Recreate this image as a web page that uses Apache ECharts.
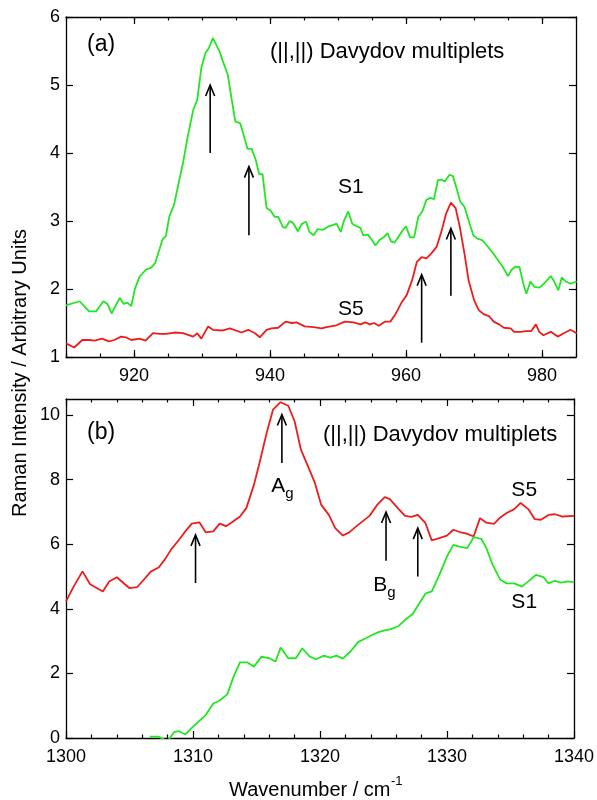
<!DOCTYPE html>
<html><head><meta charset="utf-8">
<script src="https://cdn.jsdelivr.net/npm/echarts@6/dist/echarts.min.js"></script>
<style>html,body{margin:0;padding:0;background:#fff}#c{width:597px;height:800px}</style>
</head><body><div id="c"></div>
<script>
// ---------- Panel (a) data: wavenumber, intensity ----------
const aS1 = [[910.0,1.76],[912.0,1.82],[913.4,1.67],[914.4,1.67],[915.5,1.82],[916.1,1.78],[916.7,1.64],[917.9,1.87],[918.5,1.78],[919.0,1.80],[919.6,1.75],[920.1,1.99],[920.8,2.18],[921.8,2.29],[922.5,2.31],[923.1,2.38],[923.8,2.60],[924.2,2.73],[924.7,2.78],[925.2,3.07],[925.9,3.24],[926.5,3.53],[927.2,3.85],[927.9,4.24],[928.7,4.63],[929.3,4.78],[929.9,5.25],[930.5,5.47],[931.0,5.54],[931.6,5.69],[932.1,5.59],[932.6,5.49],[933.1,5.34],[933.8,5.15],[934.3,4.83],[934.9,4.46],[935.6,4.44],[936.0,4.31],[936.7,4.06],[937.3,4.06],[937.9,3.90],[938.4,3.69],[938.9,3.69],[939.5,3.19],[940.1,3.15],[940.7,3.06],[941.2,3.06],[941.9,2.91],[942.3,2.90],[942.9,3.00],[943.4,2.97],[944.1,2.85],[944.7,2.96],[945.3,2.99],[945.8,2.84],[946.4,2.79],[947.0,2.88],[947.8,2.87],[948.6,2.92],[949.2,2.94],[949.8,2.96],[950.4,2.84],[950.9,3.01],[951.5,3.14],[952.1,2.96],[952.8,2.92],[953.3,2.90],[953.7,2.79],[954.4,2.80],[955.0,2.72],[955.5,2.64],[956.1,2.72],[956.7,2.76],[957.3,2.82],[957.8,2.70],[958.3,2.68],[958.9,2.77],[959.5,2.86],[960.0,2.92],[960.6,2.76],[961.2,2.76],[961.8,3.06],[962.4,3.14],[963.0,3.31],[963.6,3.34],[964.1,3.32],[964.7,3.60],[965.2,3.61],[965.7,3.58],[966.4,3.68],[966.9,3.66],[967.5,3.46],[968.0,3.28],[968.6,3.21],[969.2,3.01],[969.9,2.79],[970.5,2.74],[971.2,2.72],[971.9,2.64],[972.7,2.54],[973.4,2.44],[974.2,2.33],[975.0,2.19],[975.5,2.28],[976.1,2.33],[976.7,2.32],[977.3,2.06],[977.7,1.93],[978.3,2.11],[978.9,2.03],[979.6,2.02],[980.2,2.07],[981.3,2.19],[981.8,2.11],[982.4,1.98],[982.9,2.17],[983.5,2.11],[984.2,2.08],[985.1,2.11]];
const aS5 = [[910.0,1.20],[911.2,1.14],[912.4,1.25],[913.4,1.25],[914.2,1.24],[915.3,1.27],[916.3,1.23],[917.1,1.25],[918.1,1.30],[918.8,1.29],[919.6,1.25],[920.8,1.27],[921.7,1.24],[922.8,1.35],[923.8,1.34],[924.7,1.34],[926.0,1.36],[927.2,1.35],[928.7,1.30],[929.3,1.35],[929.9,1.27],[930.9,1.45],[931.6,1.40],[933.1,1.39],[934.1,1.42],[935.8,1.36],[936.8,1.40],[937.8,1.35],[938.5,1.29],[939.5,1.40],[940.2,1.42],[941.2,1.43],[942.3,1.52],[943.2,1.50],[943.9,1.51],[945.1,1.45],[946.4,1.44],[947.6,1.42],[948.3,1.44],[949.6,1.46],[951.0,1.52],[952.3,1.51],[953.3,1.48],[954.0,1.51],[954.7,1.48],[955.3,1.50],[956.0,1.46],[956.9,1.52],[957.7,1.52],[958.4,1.62],[959.4,1.81],[960.1,1.91],[960.9,2.13],[961.6,2.40],[962.3,2.47],[963.0,2.45],[963.7,2.52],[964.5,2.62],[965.2,2.84],[965.9,3.11],[966.6,3.27],[967.3,3.19],[967.9,2.92],[968.6,2.52],[969.2,2.13],[970.0,1.84],[970.7,1.69],[971.4,1.63],[972.2,1.60],[972.9,1.52],[973.7,1.48],[974.4,1.43],[975.4,1.42],[975.9,1.37],[976.9,1.37],[977.6,1.38],[978.4,1.38],[979.1,1.48],[979.6,1.37],[980.2,1.32],[981.3,1.37],[982.3,1.30],[983.2,1.35],[984.2,1.40],[985.1,1.35]];
// ---------- Panel (b) data ----------
const bS5 = [[1300.0,4.23],[1300.6,4.69],[1301.3,5.16],[1301.9,4.76],[1302.9,4.54],[1303.4,4.85],[1304.0,4.98],[1305.0,4.64],[1305.6,4.67],[1306.7,5.16],[1307.3,5.28],[1307.8,5.54],[1308.3,5.85],[1308.9,6.14],[1309.4,6.40],[1309.9,6.64],[1310.5,6.68],[1311.0,6.37],[1311.6,6.40],[1312.1,6.64],[1312.6,6.56],[1313.1,6.69],[1313.7,6.86],[1314.2,7.12],[1314.8,7.84],[1315.3,8.62],[1315.8,9.45],[1316.3,10.17],[1316.9,10.40],[1317.5,10.29],[1318.0,9.81],[1318.5,8.93],[1319.0,8.47],[1319.6,7.90],[1320.1,7.22],[1320.7,6.91],[1321.2,6.50],[1321.8,6.27],[1322.3,6.37],[1323.0,6.60],[1323.9,6.88],[1324.5,7.22],[1325.1,7.46],[1325.5,7.40],[1326.2,7.09],[1326.7,6.88],[1327.2,6.85],[1327.7,6.91],[1328.3,6.66],[1328.8,6.12],[1329.4,6.19],[1330.0,6.27],[1330.5,6.45],[1331.0,6.38],[1331.5,6.34],[1332.1,6.24],[1332.6,6.81],[1333.1,6.67],[1333.7,6.63],[1334.2,6.83],[1334.7,6.97],[1335.3,7.09],[1335.8,7.28],[1336.4,7.09],[1336.9,6.78],[1337.4,6.76],[1338.0,6.91],[1338.5,6.93],[1339.1,6.86],[1340.0,6.88]];
const bS1 = [[1306.6,0.04],[1307.3,0.04],[1308.0,-0.1],[1308.5,0.18],[1308.9,0.21],[1309.4,0.11],[1310.0,0.35],[1310.5,0.53],[1311.0,0.71],[1311.6,1.07],[1312.1,1.16],[1312.7,1.35],[1313.2,1.90],[1313.7,2.34],[1314.3,2.34],[1314.8,2.21],[1315.4,2.52],[1316.0,2.47],[1316.5,2.37],[1316.9,2.80],[1317.5,2.47],[1318.1,2.47],[1318.6,2.78],[1319.2,2.52],[1319.7,2.44],[1320.3,2.55],[1320.8,2.49],[1321.3,2.55],[1321.8,2.46],[1322.4,2.68],[1323.0,2.97],[1323.6,3.09],[1324.1,3.19],[1324.6,3.28],[1325.1,3.33],[1325.6,3.37],[1326.2,3.47],[1326.7,3.66],[1327.3,3.84],[1327.8,4.16],[1328.3,4.47],[1328.8,4.54],[1329.4,5.05],[1330.0,5.62],[1330.5,5.98],[1331.0,5.93],[1331.6,5.88],[1332.1,6.22],[1332.7,6.17],[1333.1,5.88],[1333.6,5.36],[1334.2,4.90],[1334.7,4.79],[1335.3,4.79],[1335.9,4.69],[1336.4,4.85],[1337.0,5.05],[1337.6,4.98],[1338.0,4.79],[1338.5,4.87],[1339.0,4.81],[1339.5,4.85],[1340.0,4.83]];
// ---------- Arrows: x, y start, y tip ----------
const aArrows = [[931.2,4.0,5.0],[936.9,2.79,3.80],[962.3,1.21,2.21],[966.6,1.90,2.89]];
const bArrows = [[1310.2,4.80,6.29],[1317.0,8.52,10.02],[1325.2,5.49,7.0],[1327.7,5.0,6.5]];
// ---------- Curve labels ----------
const aLabelPos = [[950.0,3.49],[950.0,1.70]];
const aLabelText = ['S1','S5'];
const aLabelSub = ['',''];
const bLabelPos = [[1316.17,7.80],[1324.2,4.74],[1335.07,7.67],[1335.07,4.20]];
const bLabelText = ['A','B','S5','S1'];
const bLabelSub = ['g','g','',''];
// ---------- Ticks ----------
const aXMajor = [920,940,960,980];
const aXRange = [910,985];
const aYRange = [1,6];
const bXRange = [1300,1340];
const bYRange = [0,10.5];
const titleText = '(||,||) Davydov multiplets';

const FONT = '"Liberation Sans", Arial, Helvetica, sans-serif';
const GREEN = '#22e622', RED = '#ee1c1c';
const axLine = {show:true, onZero:false, lineStyle:{color:'#000', width:1.3}};
const fmt = v => String(v);

function mainX(grid, pos, range, extra){
  return Object.assign({type:'value', gridIndex:grid, position:pos, min:range[0], max:range[1],
    axisLine:axLine, splitLine:{show:false},
    axisTick:{show:true, inside:true, length:7, lineStyle:{color:'#000', width:1.2}},
    axisLabel:{show:pos==='bottom', color:'#000', fontSize:18, fontFamily:FONT, margin:10, formatter:fmt}}, extra||{});
}
function mainY(grid, pos, range, interval){
  return {type:'value', gridIndex:grid, position:pos, min:range[0], max:range[1], interval:interval,
    axisLine:axLine, splitLine:{show:false},
    axisTick:{show:true, inside:true, length:7, lineStyle:{color:'#000', width:1.2}},
    axisLabel:{show:pos==='left', color:'#000', fontSize:18, fontFamily:FONT, margin:6, formatter:fmt, showMaxLabel: range[1]%interval===0}};
}

function arrowItem(params, api){
  const p0 = api.coord([api.value(0), api.value(1)]);
  const p1 = api.coord([api.value(0), api.value(2)]);
  const st = {stroke:'#000', lineWidth:1.6, fill:null};
  return {type:'group', children:[
    {type:'line', shape:{x1:p0[0], y1:p0[1], x2:p1[0], y2:p1[1]+1}, style:st},
    {type:'polyline', shape:{points:[[p1[0]-4.5,p1[1]+11],[p1[0],p1[1]],[p1[0]+4.5,p1[1]+11]]}, style:st}
  ]};
}
function labelItem(texts, subs){
  return function(params, api){
    const p = api.coord([api.value(0), api.value(1)]);
    const i = params.dataIndex;
    const ch = [{type:'text', x:p[0], y:p[1], style:{text:texts[i], fontSize:21, fontFamily:FONT, fill:'#000', align:'left', verticalAlign:'middle'}}];
    if (subs[i]) ch.push({type:'text', x:p[0]+14, y:p[1]+8, style:{text:subs[i], fontSize:15, fontFamily:FONT, fill:'#000', align:'left', verticalAlign:'middle'}});
    return {type:'group', children:ch};
  };
}

const chart = echarts.init(document.getElementById('c'), null, {renderer:'canvas'});
chart.setOption({
  animation:false,
  backgroundColor:'#fff',
  grid:[
    {left:66, top:17, width:510, height:340},
    {left:66, top:399, width:510, height:339},
    {left:66, top:17, width:510, height:340}
  ],
  xAxis:[
    mainX(0,'bottom',aXRange,{axisTick:{show:true, inside:true, length:7, customValues:aXMajor, lineStyle:{color:'#000', width:1.2}}, axisLabel:{show:true, customValues:aXMajor, color:'#000', fontSize:18, fontFamily:FONT, margin:10, formatter:fmt}}),
    mainX(0,'top',aXRange,{axisTick:{show:true, inside:true, length:7, customValues:aXMajor, lineStyle:{color:'#000', width:1.2}}, axisLabel:{show:false}}),
    {type:'value', gridIndex:2, position:'bottom', min:aXRange[0], max:aXRange[1], interval:5, axisLine:{show:false}, splitLine:{show:false}, axisLabel:{show:false}, axisTick:{show:true, inside:true, length:3.5, lineStyle:{color:'#000', width:1.2}}},
    {type:'value', gridIndex:2, position:'top', min:aXRange[0], max:aXRange[1], interval:5, axisLine:{show:false}, splitLine:{show:false}, axisLabel:{show:false}, axisTick:{show:true, inside:true, length:3.5, lineStyle:{color:'#000', width:1.2}}},
    mainX(1,'bottom',bXRange,{interval:10, minorTick:{show:true, splitNumber:5, length:3.5, lineStyle:{color:'#000', width:1.2}}}),
    mainX(1,'top',bXRange,{interval:10, minorTick:{show:true, splitNumber:5, length:3.5, lineStyle:{color:'#000', width:1.2}}})
  ],
  yAxis:[
    mainY(0,'left',aYRange,1),
    mainY(0,'right',aYRange,1),
    {type:'value', gridIndex:2, show:false, min:aYRange[0], max:aYRange[1]},
    mainY(1,'left',bYRange,2),
    mainY(1,'right',bYRange,2)
  ],
  series:[
    {type:'line', xAxisIndex:0, yAxisIndex:0, data:aS1, showSymbol:false, lineStyle:{color:GREEN, width:1.8}, itemStyle:{color:GREEN}, z:3},
    {type:'line', xAxisIndex:0, yAxisIndex:0, data:aS5, showSymbol:false, lineStyle:{color:RED, width:1.8}, itemStyle:{color:RED}, z:3},
    {type:'line', xAxisIndex:4, yAxisIndex:3, data:bS5, showSymbol:false, lineStyle:{color:RED, width:1.8}, itemStyle:{color:RED}, z:3},
    {type:'line', xAxisIndex:4, yAxisIndex:3, data:bS1, showSymbol:false, lineStyle:{color:GREEN, width:1.8}, itemStyle:{color:GREEN}, z:3},
    {type:'custom', xAxisIndex:0, yAxisIndex:0, data:aArrows, encode:{x:0, y:[1,2]}, renderItem:arrowItem, z:4},
    {type:'custom', xAxisIndex:4, yAxisIndex:3, data:bArrows, encode:{x:0, y:[1,2]}, renderItem:arrowItem, z:4},
    {type:'custom', xAxisIndex:0, yAxisIndex:0, data:aLabelPos, encode:{x:0, y:1}, renderItem:labelItem(aLabelText, aLabelSub), z:4},
    {type:'custom', xAxisIndex:4, yAxisIndex:3, data:bLabelPos, encode:{x:0, y:1}, renderItem:labelItem(bLabelText, bLabelSub), z:4}
  ],
  graphic:[
    {type:'text', x:87, y:45, style:{text:'(a)', fontSize:23, fontFamily:FONT, fill:'#000', align:'left', verticalAlign:'middle'}},
    {type:'text', x:270, y:52, style:{text:titleText, fontSize:22, fontFamily:FONT, fill:'#000', align:'left', verticalAlign:'middle'}},
    {type:'text', x:87, y:433, style:{text:'(b)', fontSize:23, fontFamily:FONT, fill:'#000', align:'left', verticalAlign:'middle'}},
    {type:'text', x:323, y:435, style:{text:titleText, fontSize:22, fontFamily:FONT, fill:'#000', align:'left', verticalAlign:'middle'}},
    {type:'text', x:20, y:373, rotation:Math.PI/2, style:{text:'Raman Intensity / Arbitrary Units', fontSize:20, fontFamily:FONT, fill:'#000', align:'center', verticalAlign:'middle'}},
    {type:'text', x:229, y:790, style:{text:'Wavenumber / cm', fontSize:20, fontFamily:FONT, fill:'#000', align:'left', verticalAlign:'middle'}},
    {type:'text', x:391, y:781, style:{text:'-1', fontSize:13, fontFamily:FONT, fill:'#000', align:'left', verticalAlign:'middle'}}
  ]
});
</script></body></html>
